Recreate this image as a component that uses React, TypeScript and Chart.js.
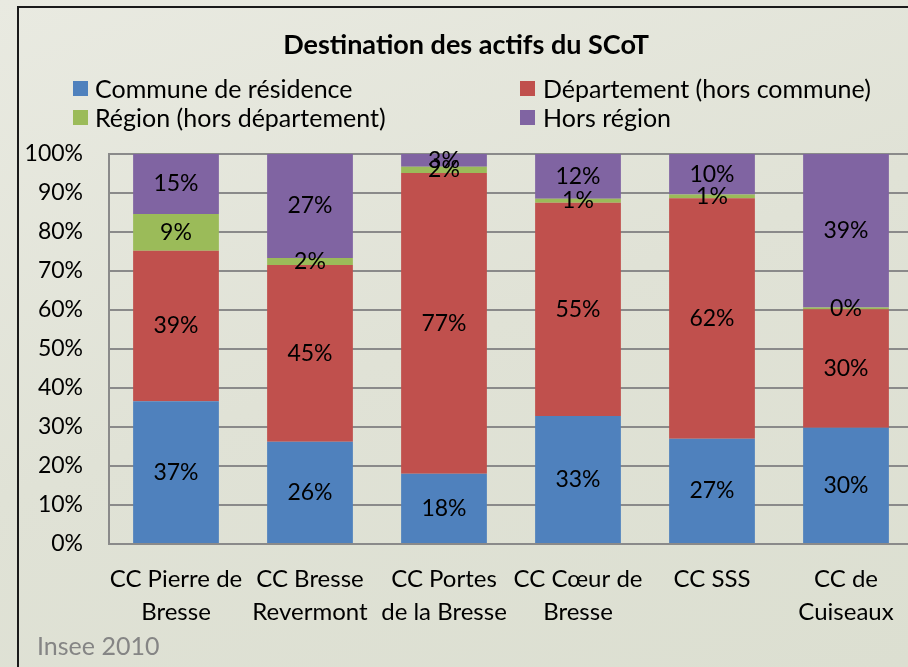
import React, { useEffect, useRef } from "react";
import { Chart, registerables } from "chart.js";
Chart.register(...registerables);

const chartTitle = "Destination des actifs du SCoT";
const categories: string[][] = [
  ["CC Pierre de", "Bresse"],
  ["CC Bresse", "Revermont"],
  ["CC Portes", "de la Bresse"],
  ["CC Cœur de", "Bresse"],
  ["CC SSS"],
  ["CC de", "Cuiseaux"],
];
const seriesNames = [
  "Commune de résidence",
  "Département (hors commune)",
  "Région (hors département)",
  "Hors région",
];
const seriesColors = ["#4F81BD", "#C0504D", "#9BBB59", "#8064A2"];
const communeValues = [36.6, 26.2, 18.0, 32.8, 27.0, 29.8];
const departementValues = [38.6, 45.3, 77.1, 54.7, 61.6, 30.4];
const regionValues = [9.4, 1.8, 1.6, 1.0, 1.0, 0.4];
const horsRegionValues = [15.4, 26.7, 3.3, 11.5, 10.4, 39.4];
const yTickStep = 10;
const sourceText = "Insee 2010";

const FONT = "Lato, 'Open Sans', sans-serif";

const dataLabelPlugin = {
  id: "segLabels",
  afterDatasetsDraw(chart: any) {
    const ctx = chart.ctx;
    ctx.save();
    ctx.font = `23px ${FONT}`;
    ctx.fillStyle = "#000";
    ctx.textAlign = "center";
    ctx.textBaseline = "middle";
    chart.data.datasets.forEach((ds: any, di: number) => {
      const meta = chart.getDatasetMeta(di);
      meta.data.forEach((el: any, i: number) => {
        const v = ds.data[i];
        const y = (el.y + el.base) / 2;
        ctx.fillText(Math.round(v) + "%", el.x, y);
      });
    });
    ctx.restore();
  },
};

export default function App() {
  const ref = useRef<HTMLCanvasElement>(null);
  useEffect(() => {
    const valueSets = [communeValues, departementValues, regionValues, horsRegionValues];
    const chart = new Chart(ref.current!, {
      type: "bar",
      data: {
        labels: categories,
        datasets: seriesNames.map((n, i) => ({
          label: n,
          data: valueSets[i],
          backgroundColor: seriesColors[i],
          borderWidth: 0,
          categoryPercentage: 1,
          barPercentage: 0.64,
        })),
      },
      options: {
        responsive: false,
        animation: false,
        devicePixelRatio: 1,
        layout: { padding: 0 },
        plugins: {
          legend: { display: false },
          tooltip: { enabled: false },
          title: {
            display: true,
            text: chartTitle,
            color: "#000",
            font: { family: FONT, size: 27, weight: "bold", lineHeight: 1.2 },
            padding: { top: 29.5, bottom: 92 },
          },
        },
        scales: {
          x: {
            stacked: true,
            grid: { display: false, drawTicks: false },
            border: { display: true, color: "#8a8a8a", width: 2 },
            ticks: {
              color: "#000",
              font: { family: FONT, size: 24, lineHeight: 1.4 },
              padding: 18,
              maxRotation: 0,
              autoSkip: false,
            },
            afterFit: (s: any) => {
              s.height = 123;
            },
          },
          y: {
            stacked: true,
            min: 0,
            max: 100,
            ticks: {
              stepSize: yTickStep,
              callback: (v: any) => v + "%",
              color: "#000",
              font: { family: FONT, size: 23 },
              padding: 26,
            },
            grid: { color: "#8a8a8a", lineWidth: 2, drawTicks: false },
            border: { display: true, color: "#8a8a8a", width: 2 },
            afterFit: (s: any) => {
              s.width = 109;
            },
          },
          yR: {
            position: "right",
            display: true,
            grid: { display: false, drawTicks: false },
            border: { display: false },
            ticks: { display: false },
            afterFit: (s: any) => {
              s.width = 19;
            },
          },
        },
      },
      plugins: [dataLabelPlugin],
    } as any);
    return () => chart.destroy();
  }, []);

  const legendText: React.CSSProperties = {
    position: "absolute",
    fontFamily: FONT,
    fontSize: 25,
    lineHeight: "26px",
    color: "#000",
    whiteSpace: "nowrap",
  };
  const legendPos = [
    { bx: 73, tx: 95, y: 88 },
    { bx: 520, tx: 543, y: 88 },
    { bx: 73, tx: 95, y: 117 },
    { bx: 520, tx: 543, y: 117 },
  ];

  return (
    <div
      style={{
        position: "fixed",
        left: 0,
        top: 0,
        width: 908,
        height: 667,
        overflow: "hidden",
        background: "linear-gradient(160deg, #e9eae1 0%, #e0e2d6 50%, #dcdfd1 100%)",
      }}
    >
      <div
        style={{
          position: "absolute",
          left: 17,
          top: 6,
          width: 1000,
          height: 1000,
          border: "2px solid #1a1a1a",
        }}
      />
      <canvas
        ref={ref}
        width={932}
        height={667}
        style={{ position: "absolute", left: 0, top: 0, width: 932, height: 667 }}
      />
      {seriesNames.map((n, i) => (
        <React.Fragment key={n}>
          <div
            style={{
              position: "absolute",
              left: legendPos[i].bx,
              top: legendPos[i].y - 7,
              width: 15,
              height: 15,
              background: seriesColors[i],
            }}
          />
          <div style={{ ...legendText, left: legendPos[i].tx, top: legendPos[i].y - 13 }}>{n}</div>
        </React.Fragment>
      ))}
      <div
        style={{
          position: "absolute",
          left: 37,
          top: 632,
          fontFamily: FONT,
          fontSize: 25,
          lineHeight: "26px",
          color: "#858585",
        }}
      >
        {sourceText}
      </div>
    </div>
  );
}
